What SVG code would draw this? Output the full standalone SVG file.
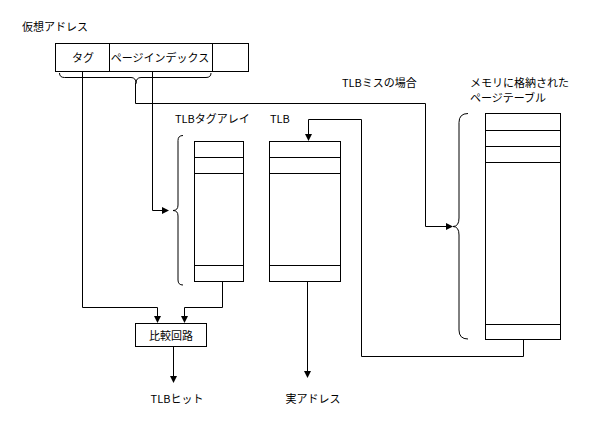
<svg xmlns="http://www.w3.org/2000/svg" width="600" height="433" viewBox="0 0 600 433">
<defs>
<style>
.l{fill:none;stroke:#000;stroke-width:1}
.b{fill:#fff;stroke:#000;stroke-width:1}
text{font-family:"Noto Sans CJK JP","Noto Sans",sans-serif;font-size:11px;fill:#000}
.c{text-anchor:middle}
</style>
<marker id="ah" markerWidth="7" markerHeight="7" refX="6" refY="3.5" orient="auto" markerUnits="userSpaceOnUse">
<path d="M0,0 L7,3.5 L0,7 Z" fill="#000"/>
</marker>
</defs>
<rect width="600" height="433" fill="#fff"/>

<g id="vaddr">
<text x="22" y="31">仮想アドレス</text>
<rect class="b" x="55.5" y="43.5" width="193" height="28"/>
<line class="l" x1="109.5" y1="43.5" x2="109.5" y2="71.5"/>
<line class="l" x1="212.5" y1="43.5" x2="212.5" y2="71.5"/>
<text class="c" x="83" y="62">タグ</text>
<text class="c" x="160" y="62">ページインデックス</text>
<path class="l" d="M59.5,73 q0,4.5 5,4.5 H131 q5,0 5,6 q0,-6 5,-6 H206 q5,0 5,-4.5"/>
</g>

<g id="tagarray">
<text x="175" y="123">TLBタグアレイ</text>
<rect class="b" x="194.5" y="141.5" width="49" height="140"/>
<line class="l" x1="194.5" y1="157.5" x2="243.5" y2="157.5"/>
<line class="l" x1="194.5" y1="173.5" x2="243.5" y2="173.5"/>
<line class="l" x1="194.5" y1="265.5" x2="243.5" y2="265.5"/>
<path class="l" d="M183,135.5 q-5,0 -5,5 V205 q0,5.5 -5,5.5 q5,0 5,5.5 V280 q0,5 5,5"/>
</g>

<g id="tlb">
<text x="270" y="123">TLB</text>
<rect class="b" x="269.5" y="141.5" width="71" height="140"/>
<line class="l" x1="269.5" y1="157.5" x2="340.5" y2="157.5"/>
<line class="l" x1="269.5" y1="173.5" x2="340.5" y2="173.5"/>
<line class="l" x1="269.5" y1="265.5" x2="340.5" y2="265.5"/>
</g>

<g id="pagetable">
<text x="470" y="87">メモリに格納された</text>
<text x="470" y="102">ページテーブル</text>
<rect class="b" x="485.5" y="113.5" width="75" height="226"/>
<line class="l" x1="485.5" y1="130.5" x2="560.5" y2="130.5"/>
<line class="l" x1="485.5" y1="146.5" x2="560.5" y2="146.5"/>
<line class="l" x1="485.5" y1="162.5" x2="560.5" y2="162.5"/>
<line class="l" x1="485.5" y1="324.5" x2="560.5" y2="324.5"/>
<path class="l" d="M468,113.5 q-9,0 -9,9 V218 q0,8.5 -6,8.5 q6,0 6,8.5 V330 q0,9 9,9"/>
</g>

<g id="compare">
<rect class="b" x="135.5" y="323.5" width="71" height="23"/>
<text class="c" x="171" y="340">比較回路</text>
</g>

<g id="labels">
<text x="342" y="87">TLBミスの場合</text>
<text class="c" x="177" y="403">TLBヒット</text>
<text class="c" x="313" y="403">実アドレス</text>
</g>

<g id="connectors">
<path class="l" d="M82.5,71.5 V307.5 H157.5 V322" marker-end="url(#ah)"/>
<path class="l" d="M222.5,281.5 V307.5 H184.5 V322" marker-end="url(#ah)"/>
<path class="l" d="M152.5,71.5 V210.5 H168" marker-end="url(#ah)"/>
<path class="l" d="M135.5,83 V103.5 H425.5 V226.5 H452" marker-end="url(#ah)"/>
<path class="l" d="M523.5,339.5 V356.5 H361.5 V119.5 H308.5 V140" marker-end="url(#ah)"/>
<path class="l" d="M173.5,346.5 V382" marker-end="url(#ah)"/>
<path class="l" d="M307.5,281.5 V377" marker-end="url(#ah)"/>
</g>
</svg>
